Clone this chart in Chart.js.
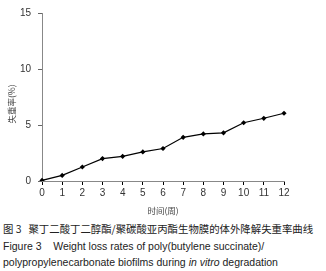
<!DOCTYPE html>
<html><head><meta charset="utf-8">
<script src="https://cdn.jsdelivr.net/npm/chart.js@4/dist/chart.umd.min.js"></script>
<style>
html,body{margin:0;padding:0;background:#fff;width:326px;height:271px;overflow:hidden;}
#wrap{position:absolute;left:0;top:0;width:326px;height:218px;}
.cap{position:absolute;left:3px;font-family:"Liberation Sans",Arial,sans-serif;color:#222;white-space:nowrap;}
</style></head><body>
<div id="wrap"><canvas id="c" width="326" height="218"></canvas></div>
<div class="cap" style="top:222px;font-size:10.4px;font-family:'Noto Sans CJK SC','Liberation Sans',sans-serif;line-height:14px;">图 3&nbsp;&nbsp;&nbsp;聚丁二酸丁二醇酯/聚碳酸亚丙酯生物膜的体外降解失重率曲线</div>
<div class="cap" style="top:239px;font-size:10.5px;line-height:14px;">Figure 3&nbsp;&nbsp;&nbsp;&nbsp;Weight loss rates of poly(butylene succinate)/</div>
<div class="cap" style="top:255px;font-size:10.5px;line-height:14px;">polypropylenecarbonate biofilms during <i>in vitro</i> degradation</div>
<script>
const weeks = ["0","1","2","3","4","5","6","7","8","9","10","11","12"];
const weightLoss = [0.05,0.5,1.25,2.0,2.2,2.6,2.9,3.9,4.2,4.3,5.2,5.6,6.05];
const yTicks = [0,5,10,15];
const xTitle = "时间(周)";
const yTitle = "失重率(%)";

const yTitlePlugin = {
  id:'yTitlePlugin',
  afterDraw(chart){
    const ctx = chart.ctx;
    ctx.save();
    ctx.translate(12, 104);
    ctx.rotate(-Math.PI/2);
    ctx.fillStyle = '#444';
    ctx.font = '8.5px "Noto Sans CJK SC"';
    ctx.textAlign = 'center';
    ctx.textBaseline = 'middle';
    ctx.fillText(yTitle, 0, 0);
    ctx.restore();
  }
};

new Chart(document.getElementById('c'), {
  type: 'line',
  data: { labels: weeks, datasets: [{
    data: weightLoss, borderColor:'#000', borderWidth:1.2, backgroundColor:'#000',
    pointStyle:'rectRot', pointRadius:2.6, pointBorderWidth:0, pointBackgroundColor:'#000', tension:0, fill:false
  }]},
  options: {
    responsive:false, animation:false, devicePixelRatio:1,
    layout:{padding:{left:0,right:42,top:9,bottom:0}},
    plugins:{legend:{display:false}, tooltip:{enabled:false}},
    scales:{
      x:{ type:'category', offset:false,
        grid:{display:true, drawOnChartArea:false, drawTicks:true, tickLength:4, color:'#000'},
        border:{display:true, color:'#888', width:1},
        ticks:{color:'#333', font:{family:'Liberation Sans', size:10}, padding:2, maxRotation:0, autoSkip:false},
        title:{display:true, text:xTitle, color:'#444', font:{family:'Noto Sans CJK SC', size:8.5}, padding:{top:4,bottom:2}},
        afterFit:(s)=>{s.height=37;}
      },
      y:{ min:0, max:15,
        afterBuildTicks:(s)=>{s.ticks=yTicks.map(v=>({value:v}));},
        grid:{display:true, drawOnChartArea:false, drawTicks:true, tickLength:4, color:'#666'},
        border:{display:true, color:'#888', width:1},
        ticks:{color:'#333', font:{family:'Liberation Sans', size:10}, padding:7},
        title:{display:false},
        afterFit:(s)=>{s.width=42;}
      }
    }
  },
  plugins:[yTitlePlugin]
});
</script>
</body></html>
